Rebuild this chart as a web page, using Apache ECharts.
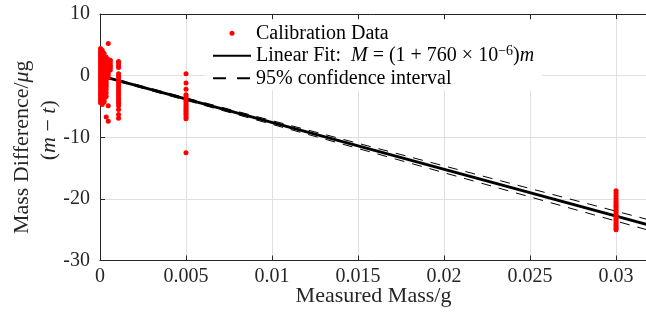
<!DOCTYPE html>
<html>
<head>
<meta charset="utf-8">
<script src="https://cdn.jsdelivr.net/npm/echarts@6/dist/echarts.min.js"></script>
<style>
html,body{margin:0;padding:0;background:#fff;}
#chart{width:646px;height:320px;}
</style>
</head>
<body>
<div id="chart"></div>
<script>
// ---- data ----
const xTickLabels = ['0', '0.005', '0.01', '0.015', '0.02', '0.025', '0.03'];
const yTickLabels = ['-30', '-20', '-10', '0', '10'];

// calibration data, grouped by measured mass (g); values are mass differences (µg)
const blobA_x = 0.00003;
const blobA_y = [4.4, 4.0, 3.6, 3.2, 2.8, 2.4, 2.0, 1.6, 1.2, 0.8, 0.4, 0.0, -0.4, -0.8, -1.2, -1.6, -2.0, -2.4, -2.8, -3.2, -3.6, -4.0, -4.4];
const blobB_x = 0.00013;
const blobB_y = [4.1, 3.7, 3.3, 2.9, 2.5, 2.1, 1.7, 1.3, 0.9, 0.5, 0.1, -0.3, -0.7, -1.1, -1.5, -1.9, -2.3, -2.7, -3.1, -3.5, -3.9, -4.3, -4.7];
const blobC_x = 0.00024;
const blobC_y = [3.6, 3.1, 2.7, 2.2, 1.8, 1.4, 1.0, 0.6, 0.2, -0.2, -0.6, -1.0, -1.4, -1.8, -2.2, -2.6, -3.0, -3.4, -3.9, -4.3];
const blobD_x = 0.00036;
const blobD_y = [3.0, 2.6, 2.2, 1.8, 1.4, 1.0, 0.6, 0.2, -0.2, -0.6, -1.0, -1.4, -1.8, -2.3, -2.8, -3.4, -6.7];
const blobE_x = 0.00048;
const blobE_y = [5.2, 2.6, 2.2, 1.8, 1.4, 1.0, 0.6, 0.2, -0.3, -4.9, -7.4];
const blobF_x = 0.0006;
const blobF_y = [2.5, 2.1, 1.7, 1.3, 0.9];
const col1_x = 0.00108;
const col1_y = [2.3, 2.0, 1.6, 1.3, 0.3, -0.1, -0.5, -0.9, -1.3, -1.7, -2.1, -2.5, -2.9, -3.3, -3.7, -4.1, -4.5, -4.9, -5.5, -6.3, -6.9];
const col5_x = 0.005;
const col5_y = [0.3, -1.2, -2.2, -3.1, -3.4, -3.7, -4.0, -4.3, -4.6, -4.9, -5.2, -5.5, -5.8, -6.1, -6.4, -6.7, -7.0, -12.5];
const col30_x = 0.03;
const col30_y = [-18.7, -19.1, -19.5, -19.9, -20.3, -20.6, -20.9, -21.2, -21.5, -21.8, -22.1, -22.4, -22.7, -23.0, -23.3, -23.6, -23.9, -24.2, -24.5, -24.8, -25.0];

// linear fit end points
const fitX = [0, 0.0318];
const fitY = [0, -24.17];

// 95% confidence band
const ciX = [0, 0.005, 0.01, 0.015, 0.02, 0.025, 0.03, 0.0318];
const ciUpper = [0.15, -3.6, -7.3, -10.98, -14.65, -18.32, -22.0, -23.32];
const ciLower = [-0.15, -4.0, -7.9, -11.82, -15.75, -19.68, -23.6, -25.02];

// ---- build ----
const groups = [
  [blobA_x, blobA_y], [blobB_x, blobB_y], [blobC_x, blobC_y], [blobD_x, blobD_y],
  [blobE_x, blobE_y], [blobF_x, blobF_y], [col1_x, col1_y], [col5_x, col5_y], [col30_x, col30_y]
];
const calData = [];
groups.forEach(g => g[1].forEach(v => calData.push([g[0], v])));
const pair = (xs, ys) => xs.map((x, i) => [x, ys[i]]);

const FONT = 'Liberation Serif';
const AX = '#262626';
const GRID = '#dfdfdf';

const chart = echarts.init(document.getElementById('chart'), null, {renderer: 'canvas'});
const xBase = {
  type: 'value', min: 0, max: 0.0318, interval: 0.005
};
chart.setOption({
  animation: false,
  backgroundColor: '#fff',
  grid: {left: 100, top: 14, width: 547, height: 246.5, containLabel: false, outerBoundsMode: 'none'},
  xAxis: [
    Object.assign({}, xBase, {
      position: 'bottom',
      name: 'Measured Mass/g',
      nameLocation: 'middle',
      nameGap: 25,
      nameMoveOverlap: false,
      nameTextStyle: {fontFamily: FONT, fontSize: 22, color: AX},
      axisLine: {show: true, onZero: false, lineStyle: {color: AX, width: 1}},
      axisTick: {show: true, inside: true, length: 5, lineStyle: {color: AX}},
      axisLabel: {
        fontFamily: FONT, fontSize: 20, color: AX, margin: 6, showMaxLabel: false,
        formatter: v => { const i = Math.round(v / 0.005); return Math.abs(v - i * 0.005) < 1e-9 ? xTickLabels[i] : ''; }
      },
      splitLine: {show: true, lineStyle: {color: GRID, width: 1}}
    }),
    Object.assign({}, xBase, {
      position: 'top',
      axisLine: {show: true, onZero: false, lineStyle: {color: AX, width: 1}},
      axisTick: {show: true, inside: true, length: 5, lineStyle: {color: AX}},
      axisLabel: {show: false},
      splitLine: {show: false}
    })
  ],
  yAxis: [{
    type: 'value', min: -30, max: 10, interval: 10,
    name: '{a|Mass Difference/}{i|μ}{g|g}\n{p|(}{i|m}{a| − }{i|t}{a|)}',
    nameLocation: 'middle',
    nameRotate: 90,
    nameGap: 37,
    nameMoveOverlap: false,
    nameTextStyle: {
      fontFamily: FONT, fontSize: 22, color: AX, lineHeight: 27,
      rich: {
        a: {fontFamily: FONT, fontSize: 22, color: AX, lineHeight: 27},
        g: {fontFamily: FONT, fontSize: 22, color: AX, lineHeight: 27, padding: [0, 20, 0, 0]},
        p: {fontFamily: FONT, fontSize: 22, color: AX, lineHeight: 27, padding: [0, 0, 0, 14]},
        i: {fontFamily: FONT, fontSize: 22, color: AX, lineHeight: 27, fontStyle: 'italic'}
      }
    },
    axisLine: {show: true, onZero: false, lineStyle: {color: AX, width: 1}},
    axisTick: {show: true, inside: true, length: 5, lineStyle: {color: AX}},
    axisLabel: {
      fontFamily: FONT, fontSize: 20, color: AX, margin: 10,
      formatter: v => yTickLabels[Math.round((v + 30) / 10)]
    },
    splitLine: {show: true, lineStyle: {color: GRID, width: 1}}
  }],
  legend: {
    show: true,
    orient: 'vertical',
    left: 205, top: 20,
    padding: [2, 8, 1, 7],
    itemGap: 0,
    itemWidth: 38, itemHeight: 5,
    itemTextGap: 4,
    backgroundColor: '#fff',
    selectedMode: false,
    data: [
      {name: 'Calibration Data'},
      {name: 'Linear Fit', itemStyle: {opacity: 0}},
      {name: '95% confidence interval', itemStyle: {opacity: 0}, lineStyle: {type: [13, 11]}}
    ],
    formatter: function (name) {
      if (name === 'Linear Fit') {
        return 'Linear Fit:  {i|M} = (1 + 760 × 10{sup|−6}){i|m}';
      }
      return name;
    },
    textStyle: {
      fontFamily: FONT, fontSize: 20, color: '#000', lineHeight: 22.5,
      rich: {
        i: {fontFamily: FONT, fontSize: 20, color: '#000', fontStyle: 'italic', lineHeight: 22.5},
        sup: {fontFamily: FONT, fontSize: 14, color: '#000', lineHeight: 14, verticalAlign: 'top'}
      }
    }
  },
  series: [
    {
      name: '95% confidence interval', type: 'line', xAxisIndex: 0, yAxisIndex: 0,
      data: pair(ciX, ciUpper), symbol: 'none', smooth: false, z: 2,
      itemStyle: {color: '#000'},
      lineStyle: {color: '#000', width: 1, type: [10, 8]}
    },
    {
      name: '95% confidence interval', type: 'line', xAxisIndex: 0, yAxisIndex: 0,
      data: pair(ciX, ciLower), symbol: 'none', smooth: false, z: 2,
      itemStyle: {color: '#000'},
      lineStyle: {color: '#000', width: 1, type: [10, 8]}
    },
    {
      name: 'Linear Fit', type: 'line', xAxisIndex: 0, yAxisIndex: 0,
      data: pair(fitX, fitY), symbol: 'none', z: 3,
      itemStyle: {color: '#000'},
      lineStyle: {color: '#000', width: 2.8}
    },
    {
      name: 'Calibration Data', type: 'scatter', xAxisIndex: 0, yAxisIndex: 0,
      data: calData, symbol: 'circle', symbolSize: 5, z: 4,
      itemStyle: {color: '#ff0000', opacity: 1}
    }
  ]
});
</script>
</body>
</html>
